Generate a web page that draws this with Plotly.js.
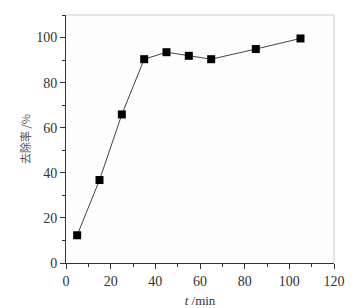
<!DOCTYPE html>
<html>
<head>
<meta charset="utf-8">
<script src="https://cdn.plot.ly/plotly-3.0.1.min.js"></script>
<style>html,body{margin:0;padding:0;background:#fff;}#chart{width:364px;height:308px;}</style>
</head>
<body>
<div id="chart"></div>
<script>
const timeMin = [5, 15, 25, 35, 45, 55, 65, 85, 105];
const removalRate = [12.3, 36.8, 65.9, 90.4, 93.5, 91.9, 90.4, 94.9, 99.6];
const xTickVals = [0, 20, 40, 60, 80, 100, 120];
const yTickVals = [0, 20, 40, 60, 80, 100];
const xTitle = '<i>t</i> /min';
const yTitle = '去除率 /%';

const serif = '"Liberation Serif", serif';

const trace = {
  x: timeMin,
  y: removalRate,
  mode: 'lines+markers',
  type: 'scatter',
  line: {color: '#444', width: 1},
  marker: {symbol: 'square', size: 8, color: '#000'},
  showlegend: false
};

const layout = {
  width: 364,
  height: 308,
  margin: {l: 66, r: 30, t: 15, b: 45},
  paper_bgcolor: '#fff',
  plot_bgcolor: '#fdfdfd',
  font: {family: serif, size: 14, color: '#333'},
  xaxis: {
    range: [0, 120],
    tickvals: xTickVals,
    ticktext: xTickVals.map(String),
    showgrid: false,
    zeroline: false,
    showline: true,
    linecolor: '#333',
    linewidth: 1,
    ticks: 'outside',
    ticklen: 5,
    tickcolor: '#333',
    minor: {dtick: 10, tick0: 0, ticks: 'outside', ticklen: 3, tickcolor: '#333', showgrid: false},
    tickfont: {family: serif, size: 14, color: '#333'},
    title: {text: xTitle, font: {family: serif, size: 13, color: '#333'}, standoff: 8},
    automargin: false
  },
  yaxis: {
    range: [0, 110],
    tickvals: yTickVals,
    ticktext: yTickVals.map(String),
    showgrid: false,
    zeroline: false,
    showline: true,
    linecolor: '#333',
    linewidth: 1,
    ticks: 'outside',
    ticklen: 5,
    tickcolor: '#333',
    minor: {dtick: 10, tick0: 0, ticks: 'outside', ticklen: 3, tickcolor: '#333', showgrid: false},
    tickfont: {family: serif, size: 14, color: '#333'},
    title: {text: yTitle, font: {family: '"Noto Sans CJK SC", serif', size: 11, color: '#555'}, standoff: 3},
    automargin: false
  },
  shapes: [
    {type: 'line', xref: 'paper', yref: 'paper', x0: 0, x1: 1, y0: 1, y1: 1, line: {color: '#ccc', width: 1}},
    {type: 'line', xref: 'paper', yref: 'paper', x0: 1, x1: 1, y0: 0, y1: 1, line: {color: '#ccc', width: 1}}
  ]
};

Plotly.newPlot('chart', [trace], layout, {displayModeBar: false, staticPlot: true});
</script>
</body>
</html>
